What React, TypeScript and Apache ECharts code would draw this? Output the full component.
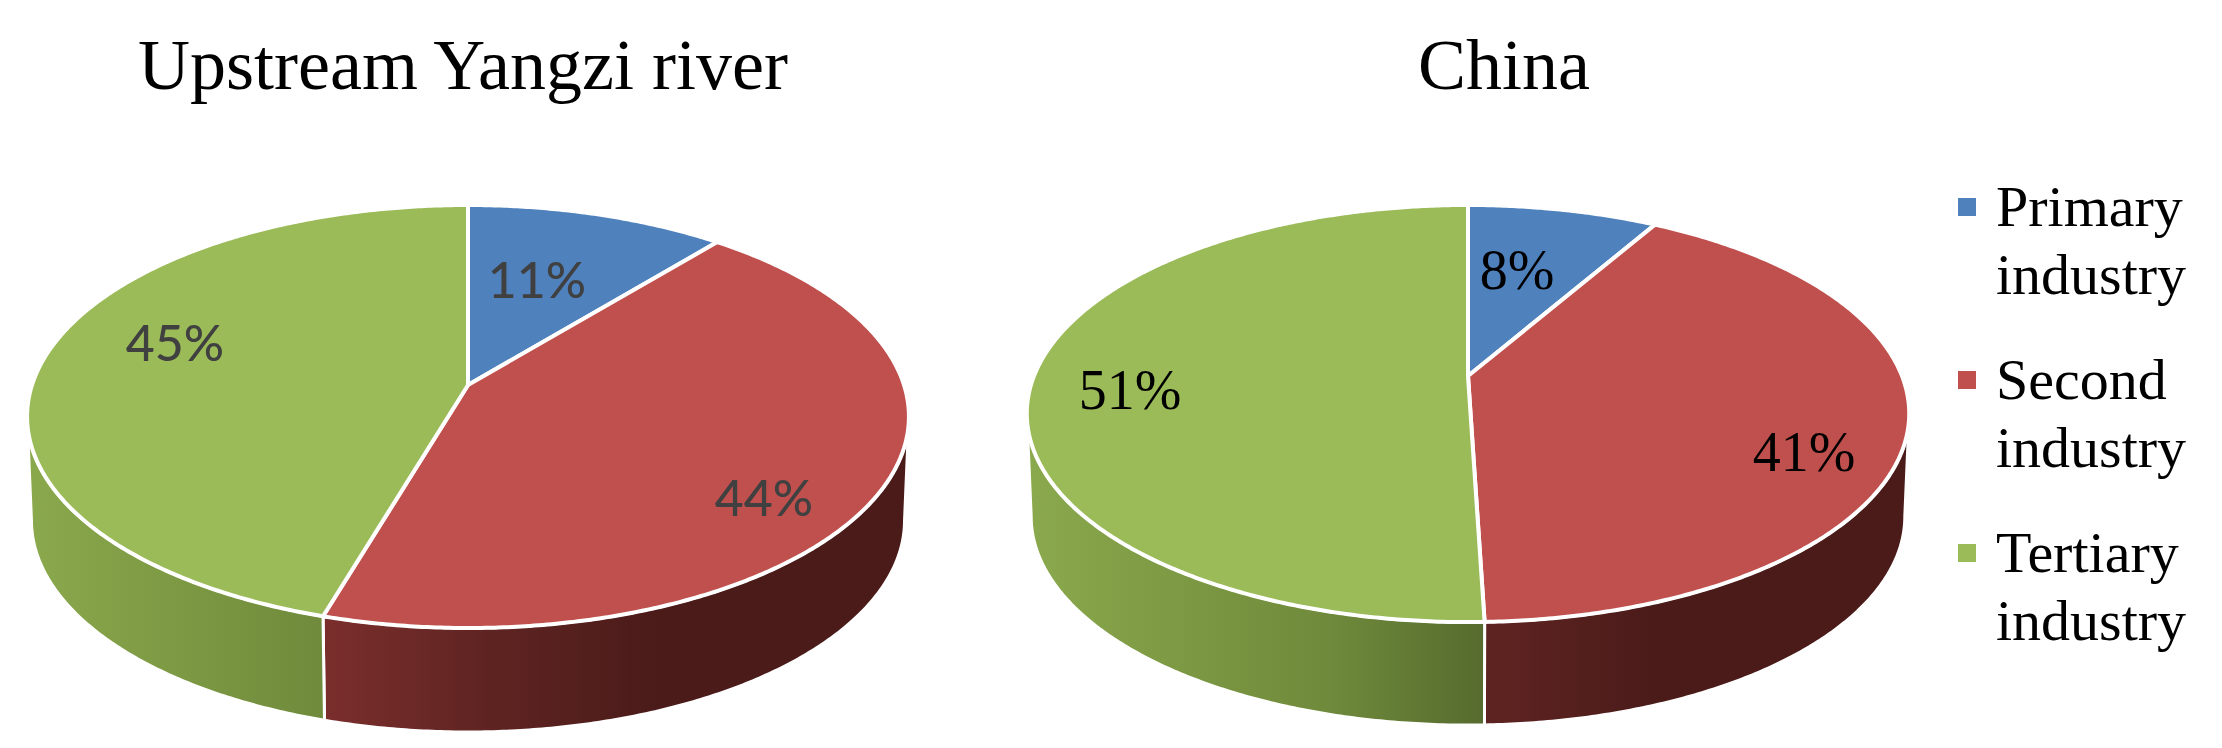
import React, { useEffect, useRef } from "react";
import * as echarts from "echarts";

const categories = ["Primary\nindustry", "Second\nindustry", "Tertiary\nindustry"];
const pieTitles = ["Upstream Yangzi river", "China"];
const upstreamShares = [11, 43.6, 45.4];
const chinaShares = [8.3, 41.2, 50.5];
const sharesByPie = [upstreamShares, chinaShares];

const topColors = ["#4f81bd", "#c0504d", "#9bbb59"];
const SERIF = "'Liberation Serif', 'Times New Roman', serif";

// Perspective model of each disc, and where its labels sit.
const PIES = [
  {
    cx: 468, apexY: 385, A: 436, B: 206.8, k: 0.149, depth: 104,
    labelFont: "500 50px Lato", labelColor: "#404040",
    labelPos: [[537, 279], [764, 497], [175, 342]],
  },
  {
    cx: 1468, apexY: 376, A: 434, B: 201.8, k: 0.18, depth: 103,
    labelFont: `56px ${SERIF}`, labelColor: "#000000",
    labelPos: [[1517, 270], [1804, 452], [1130, 390]],
  },
];

function rim(p: any, deg: number, bottom = false) {
  const t = (deg * Math.PI) / 180;
  const u = Math.sin(t);
  const v = Math.cos(t);
  const d = 1 + p.k * v;
  const A = bottom ? p.A * 0.99 : p.A;
  return [p.cx + (A * u) / d, p.apexY - (p.B * v) / d + (bottom ? p.depth : 0)];
}

function arcPoints(p: any, a: number, b: number, bottom = false) {
  const n = Math.max(2, Math.ceil(Math.abs(b - a) * 2));
  const pts: number[][] = [];
  for (let i = 0; i <= n; i++) pts.push(rim(p, a + ((b - a) * i) / n, bottom));
  return pts;
}

function sideFill(p: any, catIdx: number) {
  const x0 = p.cx - p.A;
  const x1 = p.cx + p.A;
  const stops =
    catIdx === 1
      ? [
          { offset: 0, color: "#8a3634" },
          { offset: 0.34, color: "#7a2e2c" },
          { offset: 0.52, color: "#5f2422" },
          { offset: 0.72, color: "#4a1b19" },
          { offset: 1, color: "#4a1b19" },
        ]
      : [
          { offset: 0, color: "#8aa84c" },
          { offset: 0.34, color: "#6f8a3b" },
          { offset: 0.52, color: "#566b2e" },
          { offset: 1, color: "#4f622a" },
        ];
  return new echarts.graphic.LinearGradient(x0, 0, x1, 0, stops, true);
}

function makeRenderItem(catIdx: number) {
  return (_params: any, api: any) => {
    const pieIdx = api.value(0);
    const startFrac = api.value(1);
    const endFrac = api.value(2);
    const p = PIES[pieIdx];
    const a = startFrac * 3.6;
    const b = endFrac * 3.6;
    const children: any[] = [];

    const lo = (Math.acos(-p.k) * 180) / Math.PI;
    const hi = 360 - lo;
    const sa = Math.max(a, lo);
    const sb = Math.min(b, hi);
    if (sb > sa) {
      const pts = [...arcPoints(p, sa, sb), ...arcPoints(p, sb, sa, true)];
      children.push({
        type: "polygon",
        z2: 1,
        shape: { points: pts },
        style: { fill: sideFill(p, catIdx), stroke: "#ffffff", lineWidth: 3, lineJoin: "round" },
      });
    }

    const top = [[p.cx, p.apexY], ...arcPoints(p, a, b)];
    children.push({
      type: "polygon",
      z2: 2,
      shape: { points: top },
      style: { fill: topColors[catIdx], stroke: "#ffffff", lineWidth: 4, lineJoin: "round" },
    });

    const [lx, ly] = p.labelPos[catIdx];
    children.push({
      type: "text",
      z2: 3,
      style: {
        x: lx,
        y: ly,
        text: `${Math.round(endFrac - startFrac)}%`,
        font: p.labelFont,
        fill: p.labelColor,
        align: "center",
        verticalAlign: "middle",
      },
    });
    return { type: "group", children };
  };
}

function rowsFor(catIdx: number) {
  return sharesByPie.map((shares, pieIdx) => {
    const start = shares.slice(0, catIdx).reduce((s, v) => s + v, 0);
    return [pieIdx, start, start + shares[catIdx]];
  });
}

const LEGEND_ICON = "path://M0 0L18 0Z M0 26H18V44H0Z M0 136L18 136Z";

export default function App() {
  const ref = useRef<HTMLDivElement>(null);
  useEffect(() => {
    document.body.style.margin = "0";
    const chart = echarts.init(ref.current!, null, { renderer: "svg" });
    chart.setOption({
      animation: false,
      backgroundColor: "#ffffff",
      title: [
        { text: pieTitles[0], left: 458, top: 24, textAlign: "center", textStyle: { fontFamily: SERIF, fontSize: 72, fontWeight: "normal", color: "#000" } },
        { text: pieTitles[1], left: 1499, top: 24, textAlign: "center", textStyle: { fontFamily: SERIF, fontSize: 72, fontWeight: "normal", color: "#000" } },
      ],
      legend: {
        orient: "vertical",
        left: 1958,
        top: 172,
        padding: 0,
        itemGap: 37,
        itemWidth: 18,
        itemHeight: 136,
        icon: LEGEND_ICON,
        selectedMode: false,
        data: categories,
        textStyle: { fontFamily: SERIF, fontSize: 58, lineHeight: 68, color: "#000", padding: [0, 0, 0, 15] },
      },
      series: categories.map((name, i) => ({
        type: "custom",
        name,
        coordinateSystem: "none",
        silent: true,
        itemStyle: { color: topColors[i] },
        data: rowsFor(i),
        renderItem: makeRenderItem(i),
      })),
    });
    return () => chart.dispose();
  }, []);
  return <div ref={ref} style={{ width: 2222, height: 748 }} />;
}
